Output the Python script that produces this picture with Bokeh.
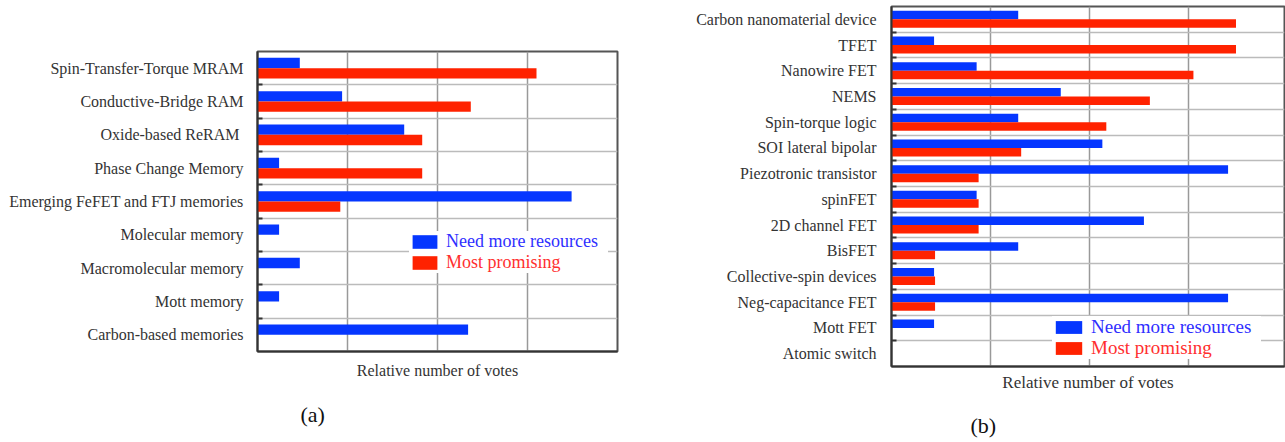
from bokeh.plotting import figure
from bokeh.models import ColumnDataSource, FixedTicker, Legend, LegendItem, Title, Range1d
from bokeh.embed import file_html
from bokeh.resources import INLINE

# ---- data (relative number of votes, in grid units) ----
mem_categories = ["Spin-Transfer-Torque MRAM", "Conductive-Bridge RAM", "Oxide-based ReRAM ",
                  "Phase Change Memory", "Emerging FeFET and FTJ memories", "Molecular memory",
                  "Macromolecular memory", "Mott memory", "Carbon-based memories"]
mem_need = [0.47, 0.94, 1.63, 0.24, 3.49, 0.24, 0.47, 0.24, 2.34]
mem_promising = [3.10, 2.37, 1.83, 1.83, 0.92, 0.0, 0.0, 0.0, 0.0]

logic_categories = ["Carbon nanomaterial device", "TFET", "Nanowire FET", "NEMS", "Spin-torque logic",
                    "SOI lateral bipolar", "Piezotronic transistor", "spinFET", "2D channel FET",
                    "BisFET", "Collective-spin devices", "Neg-capacitance FET", "Mott FET",
                    "Atomic switch"]
logic_need = [1.28, 0.43, 0.86, 1.71, 1.28, 2.13, 3.40, 0.86, 2.55, 1.28, 0.43, 3.40, 0.43, 0.0]
logic_promising = [3.48, 3.48, 3.05, 2.61, 2.17, 1.31, 0.88, 0.88, 0.88, 0.44, 0.44, 0.44, 0.0, 0.0]

series_labels = ["Need more resources", "Most promising"]
x_grid_ticks = [1, 2, 3]

BLUE = "#0536ff"
RED = "#ff2200"
BLUE_TXT = "#2f2fff"
RED_TXT = "#ff2f2f"
FONT = "Liberation Serif"
TXT = "#333333"


def make_panel(cats, need, prom, pos, borders, frame_w, frame_h, x_end, bar_h, leg,
               caption, cap_offset, cap_standoff, xlabel_size, xlabel_standoff, label_standoff):
    n = len(cats)
    centers = [n - 1 - i for i in range(n)]
    off = bar_h / 2.0
    src = ColumnDataSource(dict(
        yb=[c + off for c in centers],
        yr=[c - off for c in centers],
        need=need, prom=prom))
    bl, br, bt, bb = borders
    p = figure(frame_width=frame_w, frame_height=frame_h, title=None,
               x_range=Range1d(0, x_end), y_range=Range1d(-0.5, n - 0.5),
               output_backend="svg", toolbar_location=None,
               min_border_left=bl, min_border_right=br,
               min_border_top=bt, min_border_bottom=bb)
    p.styles = {"position": "absolute", "left": f"{pos[0]}px", "top": f"{pos[1]}px"}
    p.background_fill_color = "white"
    p.border_fill_color = "white"
    p.outline_line_color = "#555555"
    p.outline_line_width = 2

    rb = p.hbar(y="yb", left=0, right="need", height=bar_h, source=src,
                fill_color=BLUE, line_color=None)
    rr = p.hbar(y="yr", left=0, right="prom", height=bar_h, source=src,
                fill_color=RED, line_color=None)

    # y axis: labels at category centres, small inside ticks at category boundaries
    ya = p.yaxis[0]
    ya.ticker = FixedTicker(ticks=centers, minor_ticks=[c + 0.5 for c in centers[1:]])
    ya.major_label_overrides = {c: cats[i] for i, c in enumerate(centers)}
    ya.major_tick_in = 0
    ya.major_tick_out = 0
    ya.minor_tick_in = 5
    ya.minor_tick_out = 0
    ya.minor_tick_line_color = "#333333"
    ya.minor_tick_line_width = 2
    ya.axis_line_color = "#333333"
    ya.axis_line_width = 2
    ya.major_label_text_font = FONT
    ya.major_label_text_font_size = "16px"
    ya.major_label_text_color = TXT
    ya.major_label_standoff = label_standoff

    p.ygrid.grid_line_color = None
    p.ygrid.minor_grid_line_color = "#bbbbbb"
    p.ygrid.minor_grid_line_width = 1.5

    xa = p.xaxis[0]
    xa.ticker = FixedTicker(ticks=[])
    xa.major_tick_in = 0
    xa.major_tick_out = 0
    xa.minor_tick_line_color = None
    xa.major_label_standoff = 0
    xa.axis_line_color = "#333333"
    xa.axis_line_width = 2
    xa.axis_label = "Relative number of votes"
    xa.axis_label_text_font = FONT
    xa.axis_label_text_font_style = "normal"
    xa.axis_label_text_font_size = xlabel_size
    xa.axis_label_text_color = TXT
    xa.axis_label_standoff = xlabel_standoff
    p.xgrid.ticker = FixedTicker(ticks=x_grid_ticks)
    p.xgrid.grid_line_color = "#999999"
    p.xgrid.grid_line_width = 1.5

    (vx, vy1, vy2, gw, gh, pad, fs, lw) = leg
    for r, lab, col, vy in ((rb, series_labels[0], BLUE_TXT, vy1), (rr, series_labels[1], RED_TXT, vy2)):
        lg = Legend(items=[LegendItem(label=lab, renderers=[r])], location=(vx, vy),
                    glyph_width=gw, glyph_height=gh, padding=pad, label_standoff=6,
                    label_text_font=FONT, label_text_font_size=fs, label_text_color=col,
                    label_width=lw, border_line_color=None, background_fill_color="white",
                    background_fill_alpha=1.0, margin=0)
        p.add_layout(lg, "center")

    p.add_layout(Title(text=caption, align="left", offset=cap_offset, standoff=cap_standoff,
                       text_font=FONT, text_font_size="22px", text_font_style="normal",
                       text_color="#111111"), "below")
    return p


p1 = make_panel(mem_categories, mem_need, mem_promising, pos=(0, 0),
                borders=(257, 33, 51, 91), frame_w=360, frame_h=300, x_end=4.0, bar_h=0.31,
                leg=(152, 99, 78, 31, 17, 3, "18px", 162),
                caption="(a)", cap_offset=43, cap_standoff=36,
                xlabel_size="16px", xlabel_standoff=10, label_standoff=14)

p2 = make_panel(logic_categories, logic_need, logic_promising, pos=(650, 0),
                borders=(241, 1, 6, 76), frame_w=393, frame_h=360, x_end=3.97, bar_h=0.33,
                leg=(161, 28, 7, 33, 16, 5, "19px", 170),
                caption="(b)", cap_offset=79, cap_standoff=32,
                xlabel_size="17px", xlabel_standoff=6, label_standoff=15)

open("out.html", "w").write(file_html([p1, p2], INLINE))
